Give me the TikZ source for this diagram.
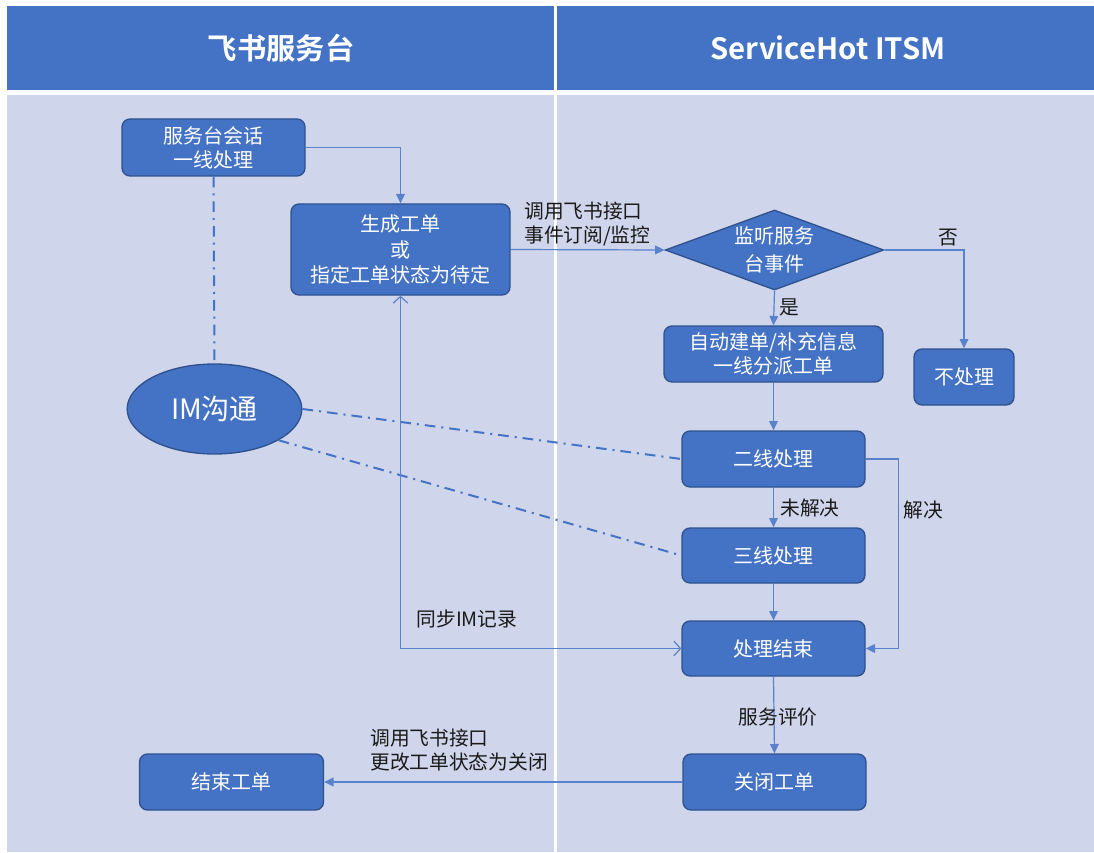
\documentclass[tikz,border=0pt]{standalone}
\usepackage{fontspec}
\setmainfont{Noto Sans CJK SC}[BoldFont={Noto Sans CJK SC Bold}]
\usetikzlibrary{arrows.meta,shapes.geometric}
\definecolor{hdr}{HTML}{4472C4}
\definecolor{bodybg}{HTML}{CFD5EA}
\definecolor{bx}{HTML}{4472C4}
\definecolor{bxd}{HTML}{2F528F}
\definecolor{ln}{HTML}{5A82CC}
\definecolor{txt}{HTML}{1A1A1A}
\tikzset{
  wh/.style 2 args={minimum width=#1*0.75pt, minimum height=#2*0.75pt},
  box/.style={draw=bxd, line width=1pt, fill=bx, rounded corners=6pt, text=white,
    align=center, inner sep=0pt, font=\fontsize{15}{18}\selectfont},
  dia/.style={diamond, draw=bxd, line width=1pt, fill=bx, text=white, align=center,
    inner sep=0pt, aspect=2.73, minimum width=164pt, minimum height=60pt,
    font=\fontsize{15}{21}\selectfont},
  ell/.style={ellipse, draw=bxd, line width=1pt, fill=bx, text=white, inner sep=0pt,
    minimum width=131pt, minimum height=67.5pt, font=\fontsize{21}{24}\selectfont},
  hdrtxt/.style={text=white, font=\fontsize{22}{26}\selectfont\bfseries},
  lbl/.style={text=txt, align=left, inner sep=0pt, font=\fontsize{14.8}{17.5}\selectfont},
  conn/.style={draw=ln, line width=0.9pt, -{Triangle[length=7pt,width=6.5pt]}},
  conn2/.style={draw=ln, line width=0.9pt, {Straight Barb[length=5pt,width=11pt]}-{Straight Barb[length=5pt,width=11pt]}},
  dd/.style={draw=hdr, line width=1.5pt, dash pattern=on 8pt off 4.5pt on 1.5pt off 4.5pt}
}
\begin{document}
\begin{tikzpicture}[x=0.75pt,y=-0.75pt]
\useasboundingbox (0,0) rectangle (1094,852);
\fill[white] (0,0) rectangle (1094,852);
\fill[hdr] (7,6) rectangle (1094,90);
\fill[bodybg] (7,95) rectangle (1094,852);
\fill[white] (554,6) rectangle (557,852);

\node[hdrtxt] (h1) at (281,48) {飞书服务台};
\node[hdrtxt] (h2) at (828,48) {ServiceHot ITSM};

\node[box, wh={183}{57}] (s1) at (213.5,147.5) {服务台会话\\一线处理};
\node[box, wh={219}{91}, font=\fontsize{15}{19}\selectfont] (gen) at (400.5,249.5) {生成工单\\或\\指定工单状态为待定};
\node[dia] (dec) at (774.5,250) {监听服务\\台事件};
\node[box, wh={219}{56}] (auto) at (773.5,354) {自动建单/补充信息\\一线分派工单};
\node[box, wh={100}{56}] (no) at (964,377) {不处理};
\node[ell] (im) at (214.5,409) {IM沟通};
\node[box, wh={183}{56}] (l2) at (773.5,459) {二线处理};
\node[box, wh={183}{55}] (l3) at (773.5,555.5) {三线处理};
\node[box, wh={183}{55}] (end) at (773.5,648.5) {处理结束};
\node[box, wh={183}{56}] (close) at (774.5,782) {关闭工单};
\node[box, wh={184}{56}] (fin) at (231.5,782) {结束工单};

\draw[dd] (s1.south) -- (im.north);
\draw[dd] (im.east) -- (l2.west);
\draw[dd] (im.-26) -- (l3.west);

\draw[conn] (s1.east) -| (gen.north);
\draw[conn] (gen.east) -- (dec.west);
\draw[conn] (dec.east) -| (no.north);
\draw[conn] (dec.south) -- (auto.north);
\draw[conn] (auto.south) -- (l2.north);
\draw[conn] (l2.south) -- (l3.north);
\draw[conn] (l3.south) -- (end.north);
\draw[conn] (l2.east) -- ++(33,0) |- (end.east);
\draw[conn2] (end.west) -| (gen.south);
\draw[conn] (end.south) -- (close.north);
\draw[conn] (close.west) -- (fin.east);

\node[lbl, anchor=west] (t1) at (524,224) {调用飞书接口\\事件订阅/监控};
\node[lbl] (t2) at (948,238) {否};
\node[lbl] (t3) at (789,307) {是};
\node[lbl] (t4) at (810,508) {未解决};
\node[lbl] (t5) at (923,510) {解决};
\node[lbl] (t6) at (467,619) {同步IM记录};
\node[lbl] (t7) at (778,717) {服务评价};
\node[lbl, anchor=west] (t8) at (370,750) {调用飞书接口\\更改工单状态为关闭};
\end{tikzpicture}
\end{document}
